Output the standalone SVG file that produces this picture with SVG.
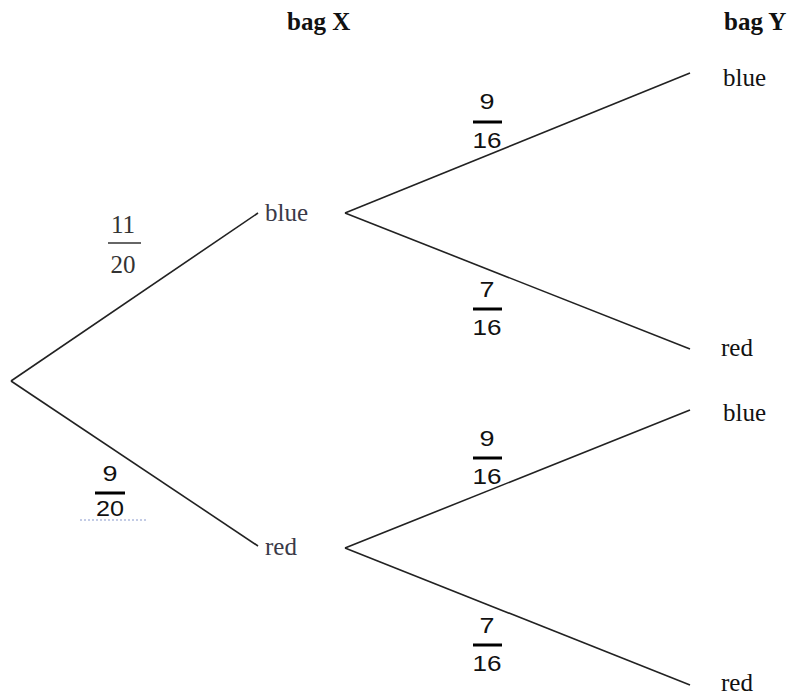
<svg xmlns="http://www.w3.org/2000/svg" width="793" height="697" viewBox="0 0 793 697">
<style>
.br{stroke:#222;stroke-width:1.6;fill:none}
.lbl{font-family:"Liberation Serif",serif;font-size:25px;fill:#111}
.lblx{font-family:"Liberation Serif",serif;font-size:25px;fill:#3a3a48}
.hd{font-family:"Liberation Serif",serif;font-size:25px;font-weight:bold;fill:#111}
.fr{font-family:"Liberation Sans",sans-serif;font-size:22px;fill:#111;text-anchor:middle}
.frs{font-family:"Liberation Serif",serif;font-size:25px;fill:#333;text-anchor:middle}
.bar{stroke:#000;stroke-width:3}
.bars{stroke:#333;stroke-width:1.5}
</style>
<rect width="793" height="697" fill="#fff"/>
<g id="connectors">
<line class="br" x1="11" y1="381" x2="258" y2="213"/>
<line class="br" x1="11" y1="381" x2="258" y2="546"/>
<line class="br" x1="345" y1="213" x2="690" y2="73"/>
<line class="br" x1="345" y1="213" x2="690" y2="349"/>
<line class="br" x1="345" y1="548" x2="690" y2="410"/>
<line class="br" x1="345" y1="548" x2="690" y2="685"/>
</g>
<g id="headers">
<text class="hd" x="287" y="30">bag X</text>
<text class="hd" x="724" y="30">bag Y</text>
</g>
<g id="x-blue"><text class="lblx" x="265" y="221">blue</text></g>
<g id="x-red"><text class="lblx" x="265" y="555">red</text></g>
<g id="y-blue-1"><text class="lbl" x="723" y="86">blue</text></g>
<g id="y-red-1"><text class="lbl" x="721" y="356">red</text></g>
<g id="y-blue-2"><text class="lbl" x="723" y="421">blue</text></g>
<g id="y-red-2"><text class="lbl" x="721" y="691">red</text></g>
<g id="f-11-20">
<text class="frs" x="123" y="233">11</text>
<line class="bars" x1="108" y1="243" x2="141" y2="243"/>
<text class="frs" x="123" y="273">20</text>
</g>
<g id="f-9-20">
<text class="fr" x="110" y="481" textLength="15" lengthAdjust="spacingAndGlyphs">9</text>
<line class="bar" x1="95" y1="493" x2="125" y2="493"/>
<text class="fr" x="110" y="516" textLength="28" lengthAdjust="spacingAndGlyphs">20</text>
<line x1="80" y1="520" x2="148" y2="520" stroke="#8899cc" stroke-width="1" stroke-dasharray="2,2"/>
</g>
<g id="f-9-16a">
<text class="fr" x="487" y="109" textLength="15" lengthAdjust="spacingAndGlyphs">9</text>
<line class="bar" x1="473" y1="122" x2="502" y2="122"/>
<text class="fr" x="487" y="148" textLength="29" lengthAdjust="spacingAndGlyphs">16</text>
</g>
<g id="f-7-16a">
<text class="fr" x="487" y="297" textLength="15" lengthAdjust="spacingAndGlyphs">7</text>
<line class="bar" x1="473" y1="309" x2="502" y2="309"/>
<text class="fr" x="487" y="335" textLength="29" lengthAdjust="spacingAndGlyphs">16</text>
</g>
<g id="f-9-16b">
<text class="fr" x="487" y="446" textLength="15" lengthAdjust="spacingAndGlyphs">9</text>
<line class="bar" x1="473" y1="458" x2="502" y2="458"/>
<text class="fr" x="487" y="484" textLength="29" lengthAdjust="spacingAndGlyphs">16</text>
</g>
<g id="f-7-16b">
<text class="fr" x="487" y="633" textLength="15" lengthAdjust="spacingAndGlyphs">7</text>
<line class="bar" x1="473" y1="645" x2="502" y2="645"/>
<text class="fr" x="487" y="671" textLength="29" lengthAdjust="spacingAndGlyphs">16</text>
</g>
</svg>
